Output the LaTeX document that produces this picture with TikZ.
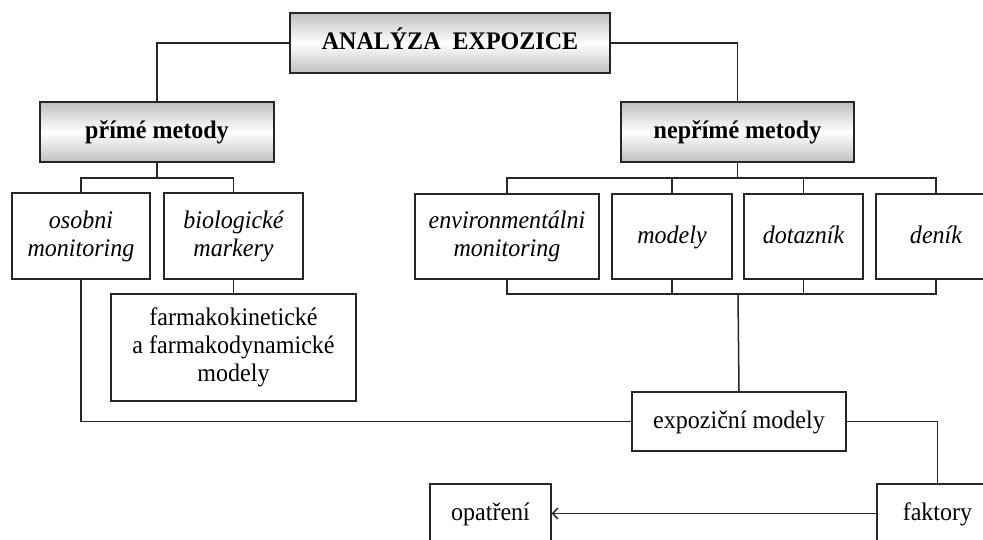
\documentclass[tikz,border=0pt]{standalone}
\usepackage{fontspec}
\setmainfont{Liberation Serif}[FakeStretch=0.95]
\usetikzlibrary{arrows.meta}
\newcommand{\boxfont}{\fontsize{25.3}{28}\selectfont}
\begin{document}
\begin{tikzpicture}[x=1pt,y=-1pt,
  txt/.style={font=\boxfont, align=center, inner sep=0pt},
  oneline/.style={text height=19, text depth=5},
  headbox/.style={txt, font=\boxfont\bfseries, oneline, draw=black!85, line width=2pt,
    top color=black!25, bottom color=black!25, middle color=white},
  plainbox/.style={txt, draw=black!85, line width=1.5pt, fill=white},
  itbox/.style={plainbox, font=\boxfont\itshape},
  link/.style={draw=black!85, line width=1.5pt},
  arrowlink/.style={link, -{Straight Barb[length=5pt,width=11pt,line width=1.5pt]}}
]
\clip (0,0) rectangle (983,540);
\fill[white] (0,0) rectangle (983,540);

% top level
\node[headbox, minimum width=320, minimum height=60] (top) at (450,43) {ANALÝZA\ \ EXPOZICE};
\node[headbox, minimum width=234, minimum height=60] (prime) at (157,132) {přímé metody};
\node[headbox, minimum width=233, minimum height=60] (neprime) at (737.5,132) {nepřímé metody};

% direct methods
\node[itbox, minimum width=138, minimum height=86] (osobni) at (81,236) {osobni\\monitoring};
\node[itbox, minimum width=139, minimum height=86] (bio) at (233.5,236) {biologické\\markery};
\node[plainbox, minimum width=245, minimum height=107] (farmako) at (233.5,347.5)
  {farmakokinetické\\a farmakodynamické\\modely};

% indirect methods
\node[itbox, minimum width=184, minimum height=85] (env) at (507,236.5) {environmentálni\\monitoring};
\node[itbox, oneline, minimum width=120, minimum height=85] (modely) at (672,236.5) {modely};
\node[itbox, oneline, minimum width=119, minimum height=85] (dotaz) at (803.5,236.5) {dotazník};
\node[itbox, oneline, minimum width=120, minimum height=85] (denik) at (936,236.5) {deník};

% exposure models and below
\node[plainbox, oneline, minimum width=214, minimum height=59] (expoz) at (739,421.5) {expoziční modely};
\node[plainbox, oneline, minimum width=121, minimum height=59] (opatreni) at (490.5,513.5) {opatření};
\node[plainbox, oneline, minimum width=121, minimum height=59] (faktory) at (937.5,513.5) {faktory};

% bus points
\coordinate (pbus) at (157,178);
\coordinate (nbus) at (737.5,178);
\coordinate (nbus2) at (738,294);

% connectors
\draw[link] (top.west) -| (prime.north);
\draw[link] (top.east) -| (neprime.north);

\draw[link] (prime.south) -- (pbus);
\draw[link] (osobni.north) |- (pbus) -| (bio.north);
\draw[link] (bio.south) -- (farmako.north);

\draw[link] (neprime.south) -- (nbus);
\draw[link] (env.north) |- (nbus) -| (denik.north);
\draw[link] (modely.north) -- (modely.north |- nbus);
\draw[link] (dotaz.north) -- (dotaz.north |- nbus);

\draw[link] (env.south) |- (nbus2) -| (denik.south);
\draw[link] (modely.south) -- (modely.south |- nbus2);
\draw[link] (dotaz.south) -- (dotaz.south |- nbus2);
\draw[link] (nbus2) -- (expoz.north);

\draw[link] (osobni.south) |- (expoz.west);
\draw[link] (expoz.east) -| (faktory.north);
\draw[arrowlink] (faktory.west) -- (opatreni.east);
\end{tikzpicture}
\end{document}
